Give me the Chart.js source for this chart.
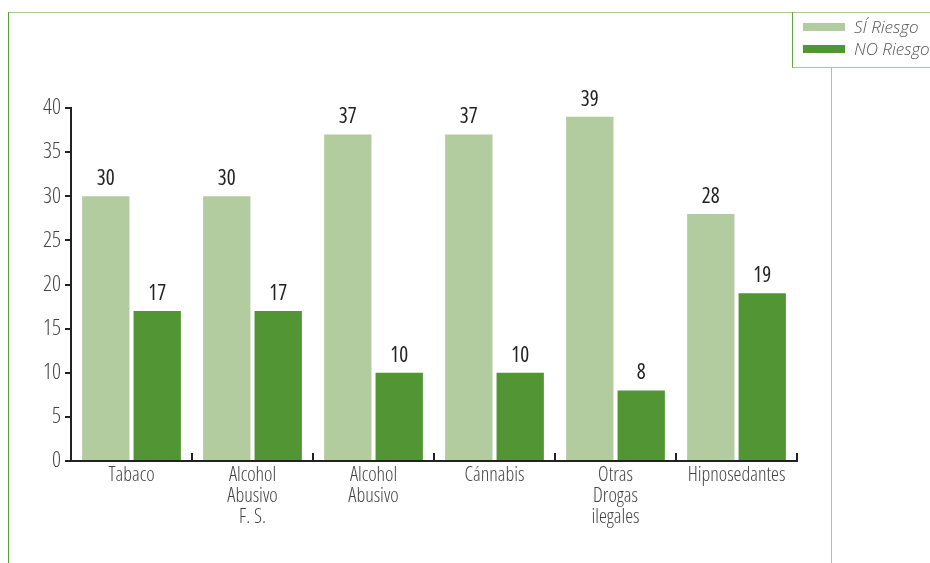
<!DOCTYPE html>
<html>
<head>
<meta charset="utf-8">
<script src="https://cdn.jsdelivr.net/npm/chart.js@4"></script>
<style>
  html, body { margin: 0; padding: 0; background: #fff; }
  #wrap { position: relative; width: 930px; height: 563px; overflow: hidden; }
  #chart { position: absolute; left: 0; top: 0; }
  .line { position: absolute; }
  #legend { position: absolute; left: 792px; top: 12px; width: 138px; height: 56px;
    border-left: 1px solid #6aa24a; border-bottom: 1px solid #a9c98f; box-sizing: border-box;
    font-family: "Open Sans", sans-serif; font-stretch: 100%; font-weight: 300; font-style: italic;
    font-size: 17px; color: #555; }
  .item { position: absolute; left: 10px; height: 22px; line-height: 22px; white-space: nowrap; }
  .sw { display: inline-block; width: 42px; height: 8px; vertical-align: middle; margin-right: 9px; margin-top: -3px; }
</style>
</head>
<body>
<div id="wrap">
  <div class="line" style="left:8px;top:12px;width:922px;height:1px;background:#a9c98f"></div>
  <div class="line" style="left:8px;top:12px;width:1px;height:551px;background:#5d9b3a"></div>
  <div class="line" style="left:831px;top:67px;width:1px;height:496px;background:#a9c98f"></div>
  <canvas id="chart" width="930" height="563"></canvas>
  <div id="legend"></div>
</div>
<script>
const categories = ['Tabaco', ['Alcohol', 'Abusivo', 'F. S.'], ['Alcohol', 'Abusivo'], 'Cánnabis', ['Otras', 'Drogas', 'ilegales'], 'Hipnosedantes'];
const seriesNames = ['SÍ Riesgo', 'NO Riesgo'];
const siRiesgo = [30, 30, 37, 37, 39, 28];
const noRiesgo = [17, 17, 10, 10, 8, 19];
const seriesColors = ['#b2cc9f', '#529534'];

const FONT = '"Open Sans", sans-serif';

// legend as html
const legend = document.getElementById('legend');
seriesNames.forEach((name, i) => {
    const it = document.createElement('div');
    it.className = 'item';
    it.style.top = (4 + i * 22) + 'px';
    it.innerHTML = '<span class="sw" style="background:' + seriesColors[i] + '"></span>' + name;
    legend.appendChild(it);
});

// numbers above the bars
const valueLabels = {
    id: 'valueLabels',
    afterDatasetsDraw(chart) {
        const ctx = chart.ctx;
        ctx.save();
        ctx.font = 'normal 400 condensed 21px ' + FONT;
        ctx.fillStyle = '#222';
        ctx.textAlign = 'center';
        ctx.textBaseline = 'alphabetic';
        chart.data.datasets.forEach((ds, di) => {
            chart.getDatasetMeta(di).data.forEach((bar, i) => {
                ctx.fillText(ds.data[i], bar.x, bar.y - 11);
            });
        });
        ctx.restore();
    }
};

// small upward ticks between categories on the x axis
const categoryTicks = {
    id: 'categoryTicks',
    afterDraw(chart) {
        const x = chart.scales.x;
        const ctx = chart.ctx;
        const n = chart.data.labels.length;
        const step = x.getPixelForValue(1) - x.getPixelForValue(0);
        ctx.save();
        ctx.strokeStyle = '#222';
        ctx.lineWidth = 2;
        for (let i = 1; i <= n; i++) {
            const px = Math.round(x.getPixelForValue(i) - step / 2);
            ctx.beginPath();
            ctx.moveTo(px, x.top);
            ctx.lineTo(px, x.top - 8);
            ctx.stroke();
        }
        ctx.restore();
    }
};

new Chart(document.getElementById('chart').getContext('2d'), {
    type: 'bar',
    data: {
        labels: categories,
        datasets: [
            { label: seriesNames[0], data: siRiesgo, backgroundColor: seriesColors[0] },
            { label: seriesNames[1], data: noRiesgo, backgroundColor: seriesColors[1] }
        ]
    },
    options: {
        responsive: false,
        animation: false,
        layout: { padding: { top: 108, right: 133, left: 0, bottom: 0 } },
        datasets: { bar: { categoryPercentage: 0.85, barPercentage: 0.92 } },
        scales: {
            x: {
                afterFit: s => { s.height = 102; },
                grid: { display: false, drawTicks: false },
                border: { color: '#222', width: 2 },
                ticks: { color: '#444', font: { family: FONT, size: 20, weight: '300 condensed', lineHeight: 1.05 }, padding: 4, maxRotation: 0, autoSkip: false }
            },
            y: {
                min: 0, max: 40,
                afterFit: s => { s.width = 71; },
                grid: { drawOnChartArea: false, tickLength: 6, color: '#222', lineWidth: 2 },
                border: { color: '#222', width: 2 },
                ticks: { stepSize: 5, color: '#444', font: { family: FONT, size: 22, weight: '300 condensed' }, padding: 4 }
            }
        },
        plugins: {
            legend: { display: false },
            tooltip: { enabled: false }
        }
    },
    plugins: [valueLabels, categoryTicks]
});
</script>
</body>
</html>
